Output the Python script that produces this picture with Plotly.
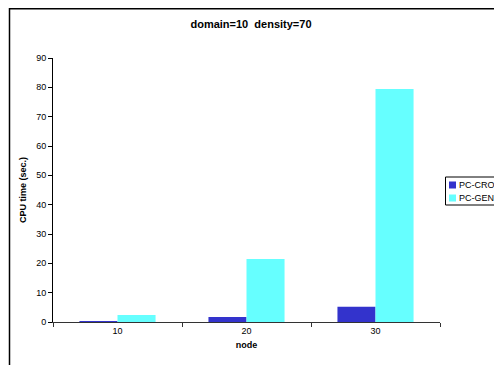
import plotly.graph_objects as go

categories = ["10", "20", "30"]
series_names = ["PC-CROSS", "PC-GEN"]
pc_cro = [0.1, 1.7, 5.2]
pc_gen = [2.4, 21.5, 79.4]
y_ticks = [0, 10, 20, 30, 40, 50, 60, 70, 80, 90]
colors = ["#3333CC", "#66FFFF"]

W, H = 494, 365
L, T = 53, 58
PR, PB = 440, 322
R, B = W - PR, H - PB
pw, ph = PR - L, PB - T

def px_x(x):
    return (x - L) / pw

def px_y(y):
    return (PB - y) / ph

fig = go.Figure()
for name, vals, col in zip(series_names, [pc_cro, pc_gen], colors):
    fig.add_bar(x=categories, y=vals, name=name, marker=dict(color=col, line=dict(width=0)),
                showlegend=False)

font = "Liberation Sans, Arial, sans-serif"
fig.update_layout(
    width=W, height=H,
    margin=dict(l=L, r=R, t=T, b=B, pad=0, autoexpand=False),
    paper_bgcolor="white", plot_bgcolor="white",
    barmode="group", bargap=0.41, bargroupgap=0,
    font=dict(family=font, size=9, color="black"),
    title=dict(text="<b>domain=10  density=70</b>", x=251 / W, xanchor="center",
               y=1 - 24 / H, yanchor="middle", font=dict(size=11, family=font)),
    showlegend=False,
)
fig.update_xaxes(
    type="category", showline=True, linecolor="#333333", linewidth=1,
    ticks="outside", tickson="boundaries", ticklen=4, tickcolor="#333333",
    title=dict(text="<b>node</b>", font=dict(size=9), standoff=6),
    showgrid=False, zeroline=False, automargin=False,
)
fig.update_yaxes(
    range=[0, 90], tickvals=y_ticks, showline=True, linecolor="black", linewidth=1,
    ticks="outside", ticklen=4, tickcolor="black", showgrid=False, zeroline=False,
    title=dict(text="<b>CPU time (sec.)</b>", font=dict(size=9), standoff=8),
    automargin=False,
)
# outer chart frame
fig.add_shape(type="rect", xref="paper", yref="paper",
              x0=px_x(9.5), x1=px_x(520), y0=px_y(400), y1=px_y(8.8),
              line=dict(color="black", width=1.5), layer="below")
# legend
fig.add_shape(type="rect", xref="paper", yref="paper",
              x0=px_x(445.5), x1=px_x(520), y0=px_y(205), y1=px_y(177),
              line=dict(color="black", width=1), fillcolor="white")
for i, (name, col) in enumerate(zip(series_names, colors)):
    cy = 185 + i * 13
    fig.add_shape(type="rect", xref="paper", yref="paper",
                  x0=px_x(449), x1=px_x(456), y0=px_y(cy + 3.5), y1=px_y(cy - 3.5),
                  line=dict(width=0), fillcolor=col)
    fig.add_annotation(xref="paper", yref="paper", x=px_x(456.5), y=px_y(cy),
                       text=name, showarrow=False, xanchor="left", yanchor="middle",
                       font=dict(size=9, family=font))

fig.write_html("out.html", config={"displayModeBar": False})

# remove the default page margin so the figure fills the window exactly
with open("out.html", encoding="utf-8") as f:
    html = f.read()
html = html.replace("<body>", '<body style="margin:0;overflow:hidden">', 1)
with open("out.html", "w", encoding="utf-8") as f:
    f.write(html)
